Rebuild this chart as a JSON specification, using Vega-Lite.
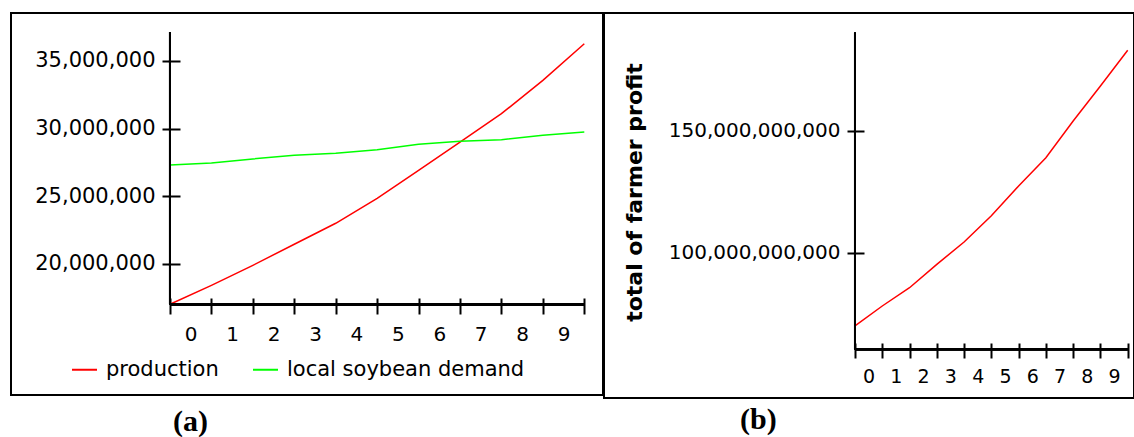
{
  "$schema": "https://vega.github.io/schema/vega-lite/v6.json",
  "padding": {"left": 10, "top": 12, "right": 0, "bottom": 0},
  "spacing": 1,
  "bounds": "flush",
  "background": "white",
  "config": {
    "view": {"stroke": "black", "strokeWidth": 2},
    "axis": {"grid": false, "domain": false, "tickColor": "black", "tickWidth": 2, "labelColor": "black", "labelFont": "DejaVu Sans", "title": null},
    "legend": {"labelFont": "DejaVu Sans", "labelColor": "black"}
  },
  "hconcat": [
    {
      "width": 592,
      "height": 382,
      "title": {"text": "(a)", "orient": "bottom", "anchor": "start", "dx": 162, "offset": 12, "font": "Liberation Serif", "fontSize": 30, "fontWeight": "bold", "color": "black"},
      "data": {"values": [
        {"t": 0, "series": "production", "value": 17000000},
        {"t": 1, "series": "production", "value": 18400000},
        {"t": 2, "series": "production", "value": 19880000},
        {"t": 3, "series": "production", "value": 21440000},
        {"t": 4, "series": "production", "value": 22990000},
        {"t": 5, "series": "production", "value": 24840000},
        {"t": 6, "series": "production", "value": 26910000},
        {"t": 7, "series": "production", "value": 29000000},
        {"t": 8, "series": "production", "value": 31100000},
        {"t": 9, "series": "production", "value": 33570000},
        {"t": 10, "series": "production", "value": 36280000},
        {"t": 0, "series": "local soybean demand", "value": 27300000},
        {"t": 1, "series": "local soybean demand", "value": 27450000},
        {"t": 2, "series": "local soybean demand", "value": 27750000},
        {"t": 3, "series": "local soybean demand", "value": 28020000},
        {"t": 4, "series": "local soybean demand", "value": 28170000},
        {"t": 5, "series": "local soybean demand", "value": 28440000},
        {"t": 6, "series": "local soybean demand", "value": 28840000},
        {"t": 7, "series": "local soybean demand", "value": 29060000},
        {"t": 8, "series": "local soybean demand", "value": 29180000},
        {"t": 9, "series": "local soybean demand", "value": 29500000},
        {"t": 10, "series": "local soybean demand", "value": 29750000}
      ]},
      "layer": [
        {
          "mark": {"type": "line", "strokeWidth": 1.5},
          "encoding": {
            "x": {"field": "t", "type": "quantitative",
              "scale": {"domain": [-3.8378, 10.4514], "nice": false, "zero": false},
              "axis": {"values": [0,1,2,3,4,5,6,7,8,9,10], "offset": -97, "tickSize": 16, "labelOffset": 20.7, "labelPadding": 10, "labelFontSize": 20, "labelFlush": false, "labelOverlap": false, "format": "d", "labelExpr": "datum.value < 10 ? datum.label : ''"}},
            "y": {"field": "value", "type": "quantitative",
              "scale": {"domain": [10283000, 38552000], "nice": false, "zero": false},
              "axis": {"values": [20000000, 25000000, 30000000, 35000000], "offset": -169, "tickSize": 18, "labelPadding": 7, "labelFontSize": 21, "format": ",d"}},
            "color": {"field": "series", "type": "nominal",
              "scale": {"domain": ["production", "local soybean demand"], "range": ["#ff0000", "#00ff00"]},
              "legend": {"title": null, "orient": "none", "direction": "horizontal", "legendX": 60, "legendY": 343, "symbolType": "stroke", "symbolSize": 625, "symbolStrokeWidth": 2, "labelFontSize": 21, "labelOffset": 8, "columnPadding": 30, "labelLimit": 400}}
          }
        },
        {
          "mark": {"type": "rule", "color": "black", "strokeWidth": 2},
          "encoding": {"x": {"datum": 0, "type": "quantitative"}, "x2": {"datum": 10}, "y": {"datum": 16995000, "type": "quantitative"}}
        },
        {
          "mark": {"type": "rule", "color": "black", "strokeWidth": 2},
          "encoding": {"x": {"datum": 0, "type": "quantitative"}, "y": {"datum": 16995000, "type": "quantitative"}, "y2": {"datum": 37146000}}
        }
      ]
    },
    {
      "width": 530,
      "height": 385,
      "title": {"text": "(b)", "orient": "bottom", "anchor": "start", "dx": 136, "offset": 7, "font": "Liberation Serif", "fontSize": 30, "fontWeight": "bold", "color": "black"},
      "data": {"values": [
        {"t": 0, "profit": 69900000000},
        {"t": 1, "profit": 78100000000},
        {"t": 2, "profit": 85600000000},
        {"t": 3, "profit": 95200000000},
        {"t": 4, "profit": 104400000000},
        {"t": 5, "profit": 115200000000},
        {"t": 6, "profit": 127400000000},
        {"t": 7, "profit": 139000000000},
        {"t": 8, "profit": 154100000000},
        {"t": 9, "profit": 168500000000},
        {"t": 10, "profit": 183200000000}
      ]},
      "layer": [
        {
          "mark": {"type": "line", "strokeWidth": 1.5, "color": "#ff0000"},
          "encoding": {
            "x": {"field": "t", "type": "quantitative",
              "scale": {"domain": [-9.204, 10.231], "nice": false, "zero": false},
              "axis": {"values": [0,1,2,3,4,5,6,7,8,9,10], "offset": -55, "tickSize": 15, "labelOffset": 13.6, "labelPadding": 9, "labelFontSize": 19, "labelFlush": false, "labelOverlap": false, "format": "d", "labelExpr": "datum.value < 10 ? datum.label : ''"}},
            "y": {"field": "profit", "type": "quantitative",
              "scale": {"domain": [40300000000, 198480000000], "nice": false, "zero": false},
              "axis": {"values": [100000000000, 150000000000], "offset": -260, "tickSize": 17, "labelPadding": 7, "labelFontSize": 20, "format": ",d",
                "title": "total of farmer profit", "titleFont": "DejaVu Sans", "titleFontSize": 22, "titleFontWeight": "bold", "titleColor": "black", "titleAngle": -90, "titleAlign": "center", "titleBaseline": "alphabetic", "titleX": -223, "titleY": 179}}
          }
        },
        {
          "mark": {"type": "rule", "color": "black", "strokeWidth": 2},
          "encoding": {"x": {"datum": 0, "type": "quantitative"}, "x2": {"datum": 10}, "y": {"datum": 60310000000, "type": "quantitative"}}
        },
        {
          "mark": {"type": "rule", "color": "black", "strokeWidth": 2},
          "encoding": {"x": {"datum": 0, "type": "quantitative"}, "y": {"datum": 60310000000, "type": "quantitative"}, "y2": {"datum": 190390000000}}
        }
      ]
    }
  ]
}
